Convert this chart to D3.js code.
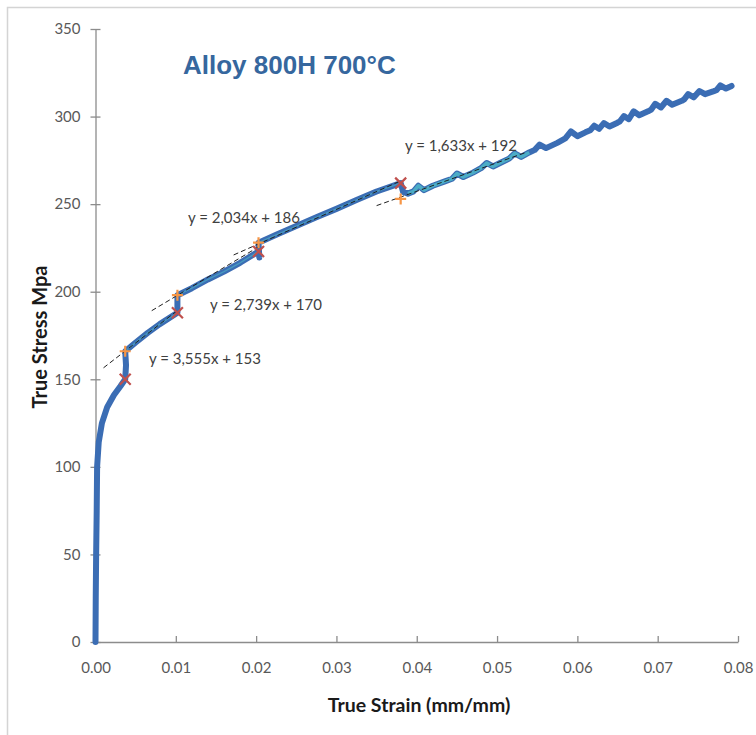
<!DOCTYPE html>
<html>
<head>
<meta charset="utf-8">
<script src="https://cdn.jsdelivr.net/npm/d3@7"></script>
<style>
  html, body { margin: 0; padding: 0; background: #fff; }
  svg { display: block; }
</style>
</head>
<body>
<svg id="chart" width="756" height="735"></svg>
<script>
// Axis ticks
const strainTicks = [0, 0.01, 0.02, 0.03, 0.04, 0.05, 0.06, 0.07, 0.08];
const stressTicks = [0, 50, 100, 150, 200, 250, 300, 350];

// Measured true stress-strain curve, split where the data steps between fit ranges
const segmentA = [[0, 0], [0.00003, 25], [0.00008, 50], [0.00015, 75], [0.0002, 100],
  [0.0004, 114], [0.0008, 125], [0.00145, 134], [0.0023, 141], [0.0031, 146], [0.0037, 150]];
const segmentB = [[0.0037, 150], [0.0038, 158], [0.0037, 166], [0.005, 171], [0.0065, 176.5],
  [0.008, 181.5], [0.0102, 188]];
const segmentC = [[0.0102, 188], [0.0102, 198], [0.012, 202], [0.014, 207], [0.016, 211.5],
  [0.018, 216.5], [0.0203, 223]];
const segmentD = [[0.0203, 223], [0.0204, 219.5], [0.0203, 228], [0.0225, 232.5], [0.025, 237.5],
  [0.0275, 242.5], [0.030, 247.3], [0.0325, 252.3], [0.035, 257.2], [0.038, 262]];
const segmentE = [[0.038, 262], [0.0383, 257], [0.0389, 256], [0.0396, 257.3], [0.0402, 260.5],
  [0.0409, 258], [0.042, 260.5], [0.0435, 263], [0.0444, 264.5], [0.045, 267.5], [0.0458, 265.5],
  [0.047, 268], [0.048, 270.5], [0.0487, 273.5], [0.0495, 271.5], [0.0505, 273.8], [0.0515, 276],
  [0.0522, 279], [0.053, 277], [0.054, 279.5], [0.0547, 281], [0.0553, 284], [0.0561, 282],
  [0.0575, 285], [0.0585, 287.5], [0.0592, 291.5], [0.06, 288.8], [0.061, 291], [0.0616, 292.2],
  [0.0621, 294.8], [0.0627, 293], [0.0633, 296.3], [0.064, 294.3], [0.065, 296.5], [0.0653, 297.3],
  [0.0658, 300.3], [0.0664, 298.5], [0.067, 303], [0.0677, 300.8], [0.0688, 303], [0.0692, 304],
  [0.0697, 307.3], [0.0704, 305.2], [0.0711, 309], [0.0718, 306.8], [0.073, 309], [0.0733, 309.8],
  [0.0738, 312.8], [0.0745, 311], [0.0752, 314.6], [0.0759, 312.8], [0.077, 314.5], [0.0773, 315],
  [0.0778, 317.8], [0.0785, 316], [0.0792, 317.5]];

// Linear fits: stress = slope * strain + intercept
const fitSlopes = [3555, 2739, 2034, 1633];
const fitIntercepts = [153, 170, 186, 192];
const fitLineFrom = [0.001, 0.007, 0.0172, 0.035];
const fitLineTo = [0.0102, 0.0203, 0.038, 0.0537];
const fitDataFrom = [0.0037, 0.0102, 0.0203, 0.0384];
const fitDataTo = [0.0102, 0.0203, 0.038, 0.0541];
const fitLabels = ["y = 3,555x + 153", "y = 2,739x + 170", "y = 2,034x + 186", "y = 1,633x + 192"];

// Range limits marked on the curve
const markStrain = [0.0037, 0.0102, 0.0203, 0.038];
const endStress = [150, 188, 223, 262];     // red crosses
const startStress = [166, 198, 228, 253];   // orange pluses

const svg = d3.select("#chart");
const W = 756, H = 735;

const x = d3.scaleLinear().domain([0, 0.08]).range([95.5, 738]);
const y = d3.scaleLinear().domain([0, 350]).range([642, 29]);

const FONT = "Lato, 'Open Sans', sans-serif";

// outer frame
svg.append("rect").attr("width", W).attr("height", H).attr("fill", "#fff");
svg.append("path")
  .attr("d", `M7.5,${H} V7.5 H${W}`)
  .attr("fill", "none").attr("stroke", "#d4d4d4").attr("stroke-width", 1.5);

// title
svg.append("text")
  .attr("x", 183).attr("y", 74)
  .attr("font-family", "'Liberation Sans', Arial, sans-serif")
  .attr("font-weight", "bold").attr("font-size", 26)
  .attr("fill", "#36679e")
  .text("Alloy 800H 700°C");

// axes
const axisColor = "#8c8c8c";
const xAxis = svg.append("g").attr("transform", `translate(0,${y(0)})`)
  .call(d3.axisBottom(x).tickValues(strainTicks).tickSize(0).tickFormat(d3.format(".2f")).tickPadding(20));
xAxis.select(".domain").attr("stroke", axisColor).attr("stroke-width", 1.3);
xAxis.selectAll(".tick line").remove();
xAxis.selectAll(".tick").append("line").attr("y1", 0).attr("y2", -6)
  .attr("stroke", axisColor).attr("stroke-width", 1.3);
xAxis.selectAll("text").attr("font-family", FONT).attr("font-size", 15).attr("fill", "#595959");

const yAxis = svg.append("g").attr("transform", `translate(${x(0)},0)`)
  .call(d3.axisLeft(y).tickValues(stressTicks).tickSize(0).tickFormat(d3.format("d")).tickPadding(15));
yAxis.select(".domain").attr("stroke", axisColor).attr("stroke-width", 1.3);
yAxis.selectAll(".tick line").remove();
yAxis.selectAll(".tick").append("line").attr("x1", -5).attr("x2", 5)
  .attr("stroke", axisColor).attr("stroke-width", 1.3);
yAxis.selectAll("text").attr("font-family", FONT).attr("font-size", 15).attr("fill", "#595959");

// axis titles
svg.append("text")
  .attr("x", 419).attr("y", 712).attr("text-anchor", "middle")
  .attr("font-family", FONT).attr("font-weight", "bold").attr("font-size", 19.5)
  .attr("fill", "#1a1a1a").text("True Strain (mm/mm)");
svg.append("text")
  .attr("transform", "translate(47,337) rotate(-90)").attr("text-anchor", "middle")
  .attr("font-family", FONT).attr("font-weight", "bold").attr("font-size", 20)
  .attr("fill", "#1a1a1a").text("True Stress Mpa");

// measured curve
const line = d3.line().x(d => x(d[0])).y(d => y(d[1]));
const curve = segmentA.concat(segmentB.slice(1), segmentC.slice(1), segmentD.slice(1), segmentE.slice(1));
svg.append("path").datum(curve)
  .attr("d", line).attr("fill", "none")
  .attr("stroke", "#3b6db4").attr("stroke-width", 6)
  .attr("stroke-linejoin", "round").attr("stroke-linecap", "round");

// fitted ranges highlighted on top of the curve
const fitData = [segmentB, segmentC, segmentD, segmentE];
fitData.forEach((seg, i) => {
  const pts = seg.filter(d => d[0] >= fitDataFrom[i] && d[0] <= fitDataTo[i] && d[1] >= startStress[i] - 3);
  svg.append("path").datum(pts)
    .attr("d", line).attr("fill", "none")
    .attr("stroke", "#4bacc6").attr("stroke-width", i === 3 ? 3.5 : 1.4)
    .attr("stroke-opacity", i === 3 ? 1 : 0.7)
    .attr("stroke-linejoin", "round");
});

// trend lines
fitSlopes.forEach((m, i) => {
  const pts = [fitLineFrom[i], fitLineTo[i]].map(s => [s, m * s + fitIntercepts[i]]);
  svg.append("path").datum(pts)
    .attr("d", line).attr("fill", "none")
    .attr("stroke", "#1f1f1f").attr("stroke-width", 1)
    .attr("stroke-dasharray", "5,3");
});

// fit range markers
const s = 5.5;
markStrain.forEach((m, i) => {
  const cx = x(m), cyE = y(endStress[i]), cyS = y(startStress[i]);
  svg.append("path")
    .attr("d", `M${cx - s},${cyE - s}L${cx + s},${cyE + s}M${cx - s},${cyE + s}L${cx + s},${cyE - s}`)
    .attr("stroke", "#c0504d").attr("stroke-width", 2.2).attr("fill", "none");
  svg.append("path")
    .attr("d", `M${cx - s},${cyS}H${cx + s}M${cx},${cyS - s}V${cyS + s}`)
    .attr("stroke", "#f79646").attr("stroke-width", 2.2).attr("fill", "none");
});

// equation labels
const labelPos = [[149, 359], [210, 305], [188, 218], [405, 146]];
fitLabels.forEach((t, i) => {
  svg.append("text")
    .attr("x", labelPos[i][0]).attr("y", labelPos[i][1]).attr("dy", "0.35em")
    .attr("font-family", FONT).attr("font-size", 15).attr("fill", "#404040")
    .text(t);
});
</script>
</body>
</html>
